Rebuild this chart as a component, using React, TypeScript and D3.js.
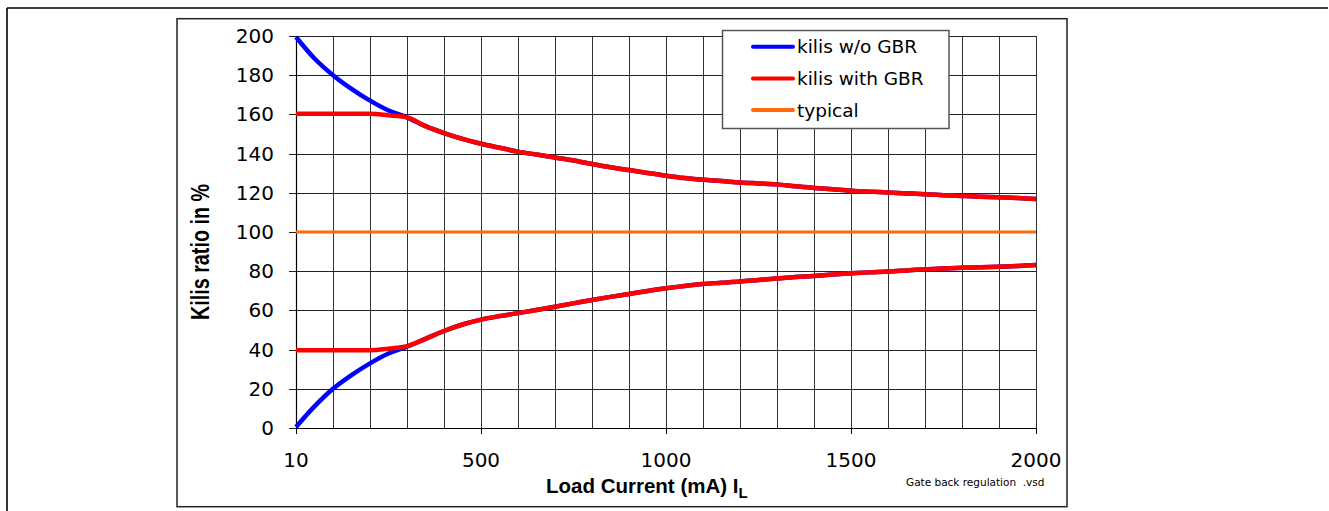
import React from "react";
import * as d3 from "d3";

const categories = [10, 50, 100, 150, 200, 250, 300, 350, 400, 450, 500, 550, 600, 650, 700, 750, 800, 850, 900, 950, 1000, 1050, 1100, 1150, 1200, 1250, 1300, 1350, 1400, 1450, 1500, 1550, 1600, 1650, 1700, 1750, 1800, 1850, 1900, 1950, 2000];

const blueUpper = [199.5, 188.5, 180, 173, 167, 162, 158.5, 154, 150.5, 147.5, 145, 143, 141, 139.5, 138, 136.5, 134.7, 133, 131.6, 130.1, 128.7, 127.5, 126.6, 126, 125.3, 124.8, 124.3, 123.3, 122.5, 121.8, 121.1, 120.6, 120.2, 119.7, 119.2, 118.8, 118.4, 118, 117.7, 117.3, 116.8];
const blueLower = [0.5, 11, 20, 27, 33, 38, 41.5, 45.5, 49.5, 52.8, 55.3, 57.1, 58.6, 60.2, 61.9, 63.6, 65.3, 66.9, 68.4, 69.9, 71.3, 72.5, 73.5, 74.1, 74.7, 75.5, 76.3, 77, 77.6, 78.3, 78.9, 79.4, 79.8, 80.4, 81, 81.4, 81.8, 82, 82.3, 82.7, 83.2];
const redUpper = [160.3, 160.3, 160.3, 160.3, 160.3, 159.5, 158.5, 154, 150.5, 147.5, 145, 143, 141, 139.5, 138, 136.5, 134.7, 133, 131.6, 130.1, 128.7, 127.5, 126.6, 126, 125.3, 124.8, 124.3, 123.3, 122.5, 121.8, 121.1, 120.6, 120.2, 119.7, 119.2, 118.8, 118.4, 118, 117.7, 117.3, 116.8];
const redLower = [39.7, 39.7, 39.7, 39.7, 39.7, 40.5, 41.8, 45.5, 49.5, 52.8, 55.3, 57.1, 58.6, 60.2, 61.9, 63.6, 65.3, 66.9, 68.4, 69.9, 71.3, 72.5, 73.5, 74.1, 74.7, 75.5, 76.3, 77, 77.6, 78.3, 78.9, 79.4, 79.8, 80.4, 81, 81.4, 81.8, 82, 82.3, 82.7, 83.2];
const typical = 100;

const yTicks = [0, 20, 40, 60, 80, 100, 120, 140, 160, 180, 200];
const xLabels = [10, 500, 1000, 1500, 2000];
const gridCategories = [10, 100, 200, 300, 400, 500, 600, 700, 800, 900, 1000, 1100, 1200, 1300, 1400, 1500, 1600, 1700, 1800, 1900, 2000];

const legendItems = [
  { label: "kilis w/o GBR", color: "#0000FF" },
  { label: "kilis with GBR", color: "#FF0000" },
  { label: "typical", color: "#FF6A0A" },
];

const FONT = "'DejaVu Sans', sans-serif";
const FONT_B = "'Liberation Sans', Arial, sans-serif";

export default function App() {
  const x = d3.scalePoint<number>().domain(categories).range([296, 1036]);
  const y = d3.scaleLinear().domain([0, 200]).range([428, 36]);
  const line = d3
    .line<number>()
    .x((_, i) => x(categories[i]) as number)
    .y((d) => y(d))
    .curve(d3.curveMonotoneX);

  const x0 = x(categories[0]) as number;
  const x1 = x(categories[categories.length - 1]) as number;

  return (
    <svg
      width={1329}
      height={511}
      style={{ position: "absolute", left: 0, top: 0, background: "#fff" }}
    >
      {/* outer frame */}
      <line x1={7} y1={8} x2={1328} y2={8} stroke="#000" strokeWidth={1.6} />
      <line x1={7} y1={8} x2={7} y2={511} stroke="#000" strokeWidth={1.6} />
      {/* inner box */}
      <rect x={177} y={18.7} width={890} height={488} fill="#fff" stroke="#222" strokeWidth={1.5} />

      {/* vertical grid */}
      {gridCategories.map((c) => (
        <line
          key={"vg" + c}
          x1={Math.round(x(c) as number) + 0.5}
          x2={Math.round(x(c) as number) + 0.5}
          y1={y(200)}
          y2={y(0)}
          stroke="#333"
          strokeWidth={1}
        />
      ))}
      {/* horizontal grid + y ticks */}
      {yTicks.map((t) => (
        <g key={"hg" + t}>
          <line
            x1={289}
            x2={x1}
            y1={Math.round(y(t)) + 0.5}
            y2={Math.round(y(t)) + 0.5}
            stroke="#222"
            strokeWidth={1}
          />
          <text
            x={274}
            y={y(t)}
            textAnchor="end"
            dominantBaseline="central"
            fontFamily={FONT}
            fontSize={20}
            fill="#000"
          >
            {t}
          </text>
        </g>
      ))}
      {/* axes */}
      <line x1={296.5} x2={296.5} y1={y(200)} y2={y(0)} stroke="#000" strokeWidth={1.2} />
      <line x1={x0} x2={x1} y1={428.5} y2={428.5} stroke="#000" strokeWidth={1.2} />
      {xLabels.map((c) => (
        <g key={"xl" + c}>
          <line
            x1={Math.round(x(c) as number) + 0.5}
            x2={Math.round(x(c) as number) + 0.5}
            y1={428}
            y2={434}
            stroke="#000"
            strokeWidth={1}
          />
          <text
            x={x(c) as number}
            y={467}
            textAnchor="middle"
            fontFamily={FONT}
            fontSize={20}
            fill="#000"
          >
            {c}
          </text>
        </g>
      ))}

      {/* typical */}
      <line x1={x0} x2={x1} y1={y(typical)} y2={y(typical)} stroke="#FF6A0A" strokeWidth={3} />
      {/* series */}
      {[blueUpper, blueLower].map((s, i) => (
        <path key={"b" + i} d={line(s) || ""} fill="none" stroke="#0000FF" strokeWidth={4.5} strokeLinejoin="round" />
      ))}
      {[redUpper, redLower].map((s, i) => (
        <path key={"r" + i} d={line(s) || ""} fill="none" stroke="#FF0000" strokeWidth={4.5} strokeLinejoin="round" />
      ))}

      {/* legend */}
      <rect x={722.5} y={30.5} width={226.5} height={98} fill="#fff" stroke="#555" strokeWidth={1.5} />
      {legendItems.map((it, i) => {
        const ly = 46.7 + i * 31.7;
        return (
          <g key={it.label}>
            <line x1={753} x2={793} y1={ly} y2={ly} stroke={it.color} strokeWidth={4} strokeLinecap="round" />
            <text x={797} y={ly} dominantBaseline="central" fontFamily={FONT} fontSize={18.5} fill="#000">
              {it.label}
            </text>
          </g>
        );
      })}

      {/* axis titles */}
      <text
        transform="translate(209,252) rotate(-90)"
        textAnchor="middle"
        fontFamily={FONT_B}
        fontWeight="bold"
        fontSize={25}
        textLength={136}
        lengthAdjust="spacingAndGlyphs"
        fill="#000"
      >
        Kilis ratio in %
      </text>
      <text x={546} y={493} fontFamily={FONT_B} fontWeight="bold" fontSize={20.5} fill="#000">
        Load Current (mA) I
        <tspan fontSize={15} dy={5}>L</tspan>
      </text>
      <text
        x={906}
        y={486}
        fontFamily={FONT}
        fontSize={10.5}
        fill="#000"
        style={{ whiteSpace: "pre" }}
      >
        {"Gate back regulation  .vsd"}
      </text>
    </svg>
  );
}
